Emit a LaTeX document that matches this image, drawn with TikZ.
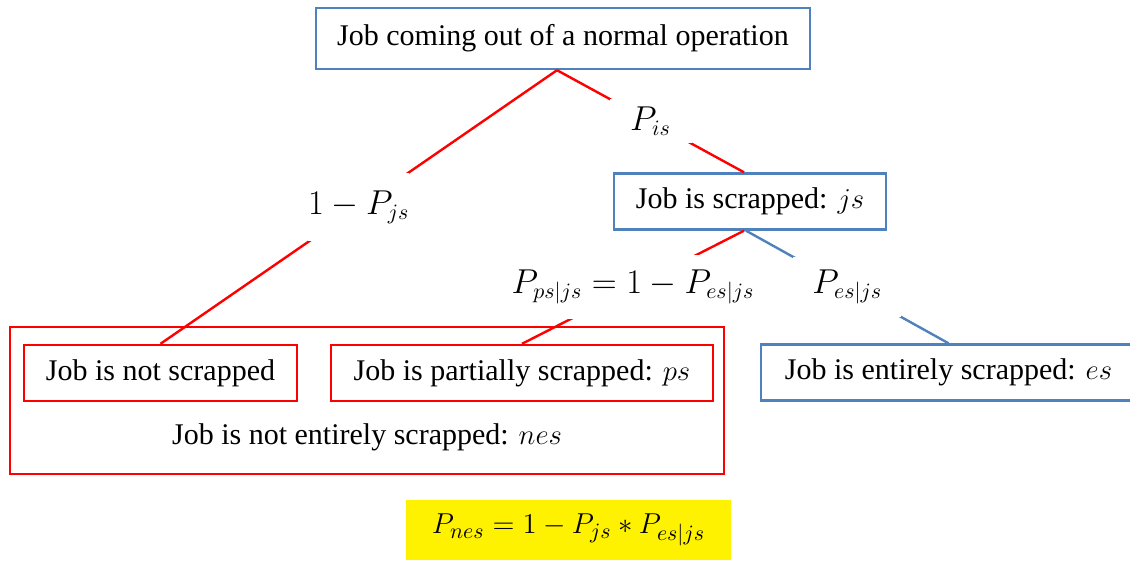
\documentclass[tikz,border=0pt]{standalone}
\usepackage{fontspec}
\setmainfont{Liberation Serif}
\definecolor{azul}{RGB}{79,129,189}
\begin{document}
\begin{tikzpicture}[x=0.5pt, y=-0.5pt,
  caja/.style={draw=azul, line width=1.2pt, minimum height=28pt, inner sep=0pt, font=\fontsize{15}{18}\selectfont},
  cajaroja/.style={caja, draw=red},
  prob/.style={fill=white, inner sep=0pt, font=\fontsize{16}{19}\selectfont},
  rama/.style={draw=red, line width=1.2pt},
  ramaazul/.style={draw=azul, line width=1.2pt}]
  \useasboundingbox (0,0) rectangle (1130,561);
  \clip (0,0) rectangle (1130,561);

  % Nodos
  \node[caja, minimum width=247pt, minimum height=30.5pt] (op) at (563,38.5) {Job coming out of a normal operation};
  \node[caja, minimum width=136pt] (js) at (750,201.5) {Job is scrapped: $js$};
  \node[cajaroja, minimum width=357pt, minimum height=73.5pt] (nesbox) at (367,400.5) {};
  \node[cajaroja, minimum width=136.5pt] (notjs) at (160.5,373) {Job is not scrapped};
  \node[cajaroja, minimum width=191pt] (ps) at (522,373) {Job is partially scrapped: $ps$};
  \node[font=\fontsize{15}{18}\selectfont] (nes) at (367,437) {Job is not entirely scrapped: $nes$};
  \node[caja, minimum width=187.5pt] (es) at (948.5,372.5) {Job is entirely scrapped: $es$};
  \node[fill=yellow, minimum width=162.5pt, minimum height=30pt, font=\fontsize{15}{18}\selectfont] (pnes) at (568.5,530) {$P_{nes}=1-P_{js}*P_{es|js}$};

  % Ramas
  \draw[rama] ([xshift=-3pt]op.south) -- node[prob, minimum width=46pt, minimum height=34pt] {$1-P_{js}$} (notjs.north);
  \draw[rama] ([xshift=-3pt]op.south) -- node[prob, minimum width=41pt, minimum height=22pt] {$P_{is}$} ([xshift=-3pt]js.north);
  \draw[rama] ([xshift=-3pt]js.south) -- node[prob, minimum height=32pt] {$P_{ps|js}=1-P_{es|js}$} (ps.north);
  \draw[ramaazul] ([xshift=-2pt]js.south) -- node[prob, minimum width=54pt, minimum height=30pt] {$P_{es|js}$} (es.north);
\end{tikzpicture}
\end{document}
